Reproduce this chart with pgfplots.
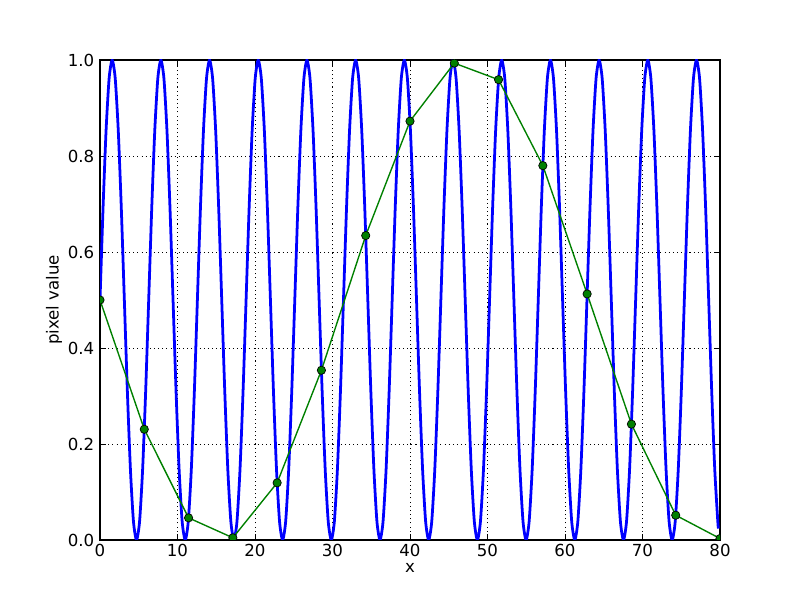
\documentclass[border=0pt]{standalone}
\usepackage{fontspec}
\setmainfont{DejaVu Sans}
\usepackage{pgfplots}
\pgfplotsset{compat=1.18}
\definecolor{mplblue}{RGB}{0,0,255}
\definecolor{mplgreen}{RGB}{0,128,0}
\begin{document}
\fontsize{12}{14}\selectfont
\begin{tikzpicture}
\begin{axis}[
  at={(0,0)}, anchor=south west,
  scale only axis, width=6.2in, height=4.8in,
  xmin=0, xmax=80, ymin=0, ymax=1,
  xtick={0,10,20,30,40,50,60,70,80},
  ytick={0,0.2,0.4,0.6,0.8,1.0},
  /pgf/number format/assume math mode=true,
  yticklabel style={/pgf/number format/.cd, fixed, fixed zerofill, precision=1},
  xticklabel style={/pgf/number format/fixed, yshift=1.5pt},
  scaled ticks=false,
  tick label style={font=\fontsize{12}{14}\selectfont},
  label style={font=\fontsize{12}{14}\selectfont},
  xlabel={x}, ylabel={pixel value},
  xlabel style={yshift=3pt},
  ylabel style={yshift=-4pt},
  grid=major,
  grid style={black, line width=0.5pt, dash pattern=on 0.75pt off 2.25pt},
  axis line style={black, line width=0.75pt},
  tick style={black, line width=0.5pt},
  major tick length=4pt,
  tick align=inside,
  clip marker paths=true,
]
\addplot[mplblue, line width=2pt, smooth, tension=0.4] table {
x y
0 0.5
0.393 0.6913
0.785 0.8536
1.178 0.9619
1.571 1
1.963 0.9619
2.356 0.8536
2.749 0.6913
3.142 0.5
3.534 0.3087
3.927 0.1464
4.320 0.0381
4.712 0
5.105 0.0381
5.498 0.1464
5.890 0.3087
6.283 0.5
6.676 0.6913
7.069 0.8536
7.461 0.9619
7.854 1
8.247 0.9619
8.639 0.8536
9.032 0.6913
9.425 0.5
9.817 0.3087
10.210 0.1464
10.603 0.0381
10.996 0
11.388 0.0381
11.781 0.1464
12.174 0.3087
12.566 0.5
12.959 0.6913
13.352 0.8536
13.744 0.9619
14.137 1
14.530 0.9619
14.923 0.8536
15.315 0.6913
15.708 0.5
16.101 0.3087
16.493 0.1464
16.886 0.0381
17.279 0
17.671 0.0381
18.064 0.1464
18.457 0.3087
18.850 0.5
19.242 0.6913
19.635 0.8536
20.028 0.9619
20.420 1
20.813 0.9619
21.206 0.8536
21.598 0.6913
21.991 0.5
22.384 0.3087
22.777 0.1464
23.169 0.0381
23.562 0
23.955 0.0381
24.347 0.1464
24.740 0.3087
25.133 0.5
25.525 0.6913
25.918 0.8536
26.311 0.9619
26.704 1
27.096 0.9619
27.489 0.8536
27.882 0.6913
28.274 0.5
28.667 0.3087
29.060 0.1464
29.452 0.0381
29.845 0
30.238 0.0381
30.631 0.1464
31.023 0.3087
31.416 0.5
31.809 0.6913
32.201 0.8536
32.594 0.9619
32.987 1
33.379 0.9619
33.772 0.8536
34.165 0.6913
34.558 0.5
34.950 0.3087
35.343 0.1464
35.736 0.0381
36.128 0
36.521 0.0381
36.914 0.1464
37.306 0.3087
37.699 0.5
38.092 0.6913
38.485 0.8536
38.877 0.9619
39.270 1
39.663 0.9619
40.055 0.8536
40.448 0.6913
40.841 0.5
41.233 0.3087
41.626 0.1464
42.019 0.0381
42.412 0
42.804 0.0381
43.197 0.1464
43.590 0.3087
43.982 0.5
44.375 0.6913
44.768 0.8536
45.160 0.9619
45.553 1
45.946 0.9619
46.338 0.8536
46.731 0.6913
47.124 0.5
47.517 0.3087
47.909 0.1464
48.302 0.0381
48.695 0
49.087 0.0381
49.480 0.1464
49.873 0.3087
50.265 0.5
50.658 0.6913
51.051 0.8536
51.444 0.9619
51.836 1
52.229 0.9619
52.622 0.8536
53.014 0.6913
53.407 0.5
53.800 0.3087
54.192 0.1464
54.585 0.0381
54.978 0
55.371 0.0381
55.763 0.1464
56.156 0.3087
56.549 0.5
56.941 0.6913
57.334 0.8536
57.727 0.9619
58.119 1
58.512 0.9619
58.905 0.8536
59.298 0.6913
59.690 0.5
60.083 0.3087
60.476 0.1464
60.868 0.0381
61.261 0
61.654 0.0381
62.046 0.1464
62.439 0.3087
62.832 0.5
63.225 0.6913
63.617 0.8536
64.010 0.9619
64.403 1
64.795 0.9619
65.188 0.8536
65.581 0.6913
65.973 0.5
66.366 0.3087
66.759 0.1464
67.152 0.0381
67.544 0
67.937 0.0381
68.330 0.1464
68.722 0.3087
69.115 0.5
69.508 0.6913
69.900 0.8536
70.293 0.9619
70.686 1
71.079 0.9619
71.471 0.8536
71.864 0.6913
72.257 0.5
72.649 0.3087
73.042 0.1464
73.435 0.0381
73.827 0
74.220 0.0381
74.613 0.1464
75.006 0.3087
75.398 0.5
75.791 0.6913
76.184 0.8536
76.576 0.9619
76.969 1
77.362 0.9619
77.754 0.8536
78.147 0.6913
78.540 0.5
78.933 0.3087
79.325 0.1464
79.718 0.0381
79.8 0.0239
};
\addplot[mplgreen, line width=1pt, mark=*, mark size=3pt,
  mark options={fill=mplgreen, draw=black, line width=0.5pt}] table {
x y
0 0.5
5.714 0.2307
11.429 0.0461
17.143 0.0046
22.857 0.1191
28.571 0.3536
34.286 0.6342
40.000 0.8726
45.714 0.9935
51.429 0.9590
57.143 0.7799
62.857 0.5126
68.571 0.2414
74.286 0.0516
80.000 0.0031
};
\end{axis}
\path[use as bounding box] (-1in,-0.6in) rectangle (7in,5.4in);
\end{tikzpicture}
\end{document}
